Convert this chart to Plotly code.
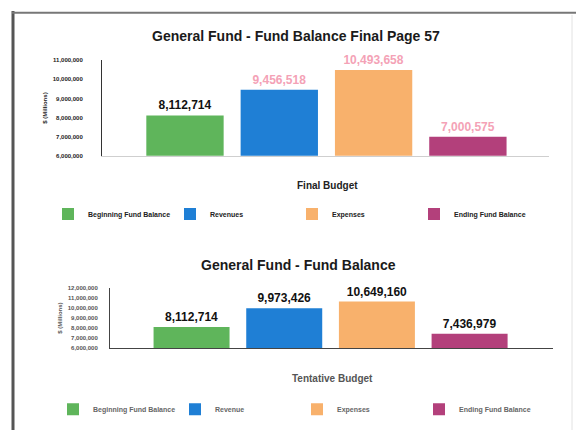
import plotly.graph_objects as go

# ---------------- data ----------------
series_final = ["Beginning Fund Balance", "Revenues", "Expenses", "Ending Fund Balance"]
series_tent = ["Beginning Fund Balance", "Revenue", "Expenses", "Ending Fund Balance"]
final_values = [8112714, 9456518, 10493658, 7000575]
tentative_values = [8112714, 9973426, 10649160, 7436979]
final_ticks = [6000000, 7000000, 8000000, 9000000, 10000000, 11000000]
tent_ticks = [6000000, 7000000, 8000000, 9000000, 10000000, 11000000, 12000000]
final_title = "General Fund - Fund Balance Final Page 57"
tent_title = "General Fund - Fund Balance"
final_xtitle = "Final Budget"
tent_xtitle = "Tentative Budget"
ytitle = "$ (Millions)"

# ---------------- styles ----------------
bar_colors = ["#5fb55b", "#1f7fd5", "#f8b16c", "#b3407b"]
final_label_colors = ["#111111", "#f4a2b6", "#f4a2b6", "#f4a2b6"]
tent_label_colors = ["#111111", "#111111", "#111111", "#111111"]
FONT = "Liberation Sans, Arial, sans-serif"
W, H = 576, 433

fig = go.Figure()

for i, name in enumerate(series_final):
    fig.add_trace(go.Bar(
        x=[i], y=[final_values[i]], name=name,
        marker=dict(color=bar_colors[i], line=dict(width=0)),
        width=0.82,
        text=[f"{final_values[i]:,}"], textposition="outside",
        textfont=dict(family=FONT, size=12, color=final_label_colors[i], weight="bold"),
        constraintext="none", cliponaxis=False,
        xaxis="x", yaxis="y", legend="legend", hoverinfo="skip",
    ))

for i, name in enumerate(series_tent):
    fig.add_trace(go.Bar(
        x=[i], y=[tentative_values[i]], name=name,
        marker=dict(color=bar_colors[i], line=dict(width=0)),
        width=0.82,
        text=[f"{tentative_values[i]:,}"], textposition="outside",
        textfont=dict(family=FONT, size=12, color=tent_label_colors[i], weight="bold"),
        constraintext="none", cliponaxis=False,
        xaxis="x2", yaxis="y2", legend="legend2", hoverinfo="skip",
    ))

def px_x(p):
    return p / W

def px_y(p):
    return 1 - p / H

fig.update_layout(
    width=W, height=H,
    margin=dict(l=0, r=0, t=0, b=0),
    paper_bgcolor="white", plot_bgcolor="white",
    barmode="overlay",
    font=dict(family=FONT, color="#222222"),
    showlegend=True,
    xaxis=dict(
        domain=[px_x(102), px_x(549)], range=[-0.88, 3.86],
        showticklabels=False, ticks="", showgrid=False, zeroline=False,
        showline=True, linecolor="#cfcfcf", linewidth=1,
        anchor="y",
    ),
    yaxis=dict(
        domain=[px_y(155), px_y(58)], range=[6000000, 11000000],
        tickvals=final_ticks, tickformat=",d",
        tickfont=dict(family=FONT, size=6, color="#222222", weight="bold"),
        ticks="", ticklabelstandoff=17,
        showgrid=False, zeroline=False,
        showline=True, linecolor="#333333", linewidth=1,
        anchor="x",
        title=dict(text=ytitle, standoff=4,
                   font=dict(family=FONT, size=6, color="#222222", weight="bold")),
    ),
    xaxis2=dict(
        domain=[px_x(110), px_x(553)], range=[-0.88, 3.9],
        showticklabels=False, ticks="", showgrid=False, zeroline=False,
        showline=True, linecolor="#444444", linewidth=1,
        anchor="y2",
    ),
    yaxis2=dict(
        domain=[px_y(350), px_y(289)], range=[6000000, 12000000],
        tickvals=tent_ticks, tickformat=",d",
        tickfont=dict(family=FONT, size=6, color="#555555", weight="bold"),
        ticks="", ticklabelstandoff=10,
        showgrid=False, zeroline=False,
        showline=True, linecolor="#444444", linewidth=1,
        anchor="x2",
        title=dict(text=ytitle, standoff=4,
                   font=dict(family=FONT, size=6, color="#555555", weight="bold")),
    ),
    legend=dict(
        orientation="h", x=px_x(48), y=px_y(214), xanchor="left", yanchor="middle",
        entrywidth=77, entrywidthmode="pixels",
        font=dict(family=FONT, size=7, color="#222222", weight="bold"),
        bgcolor="rgba(0,0,0,0)", traceorder="normal",
    ),
    legend2=dict(
        orientation="h", x=px_x(53), y=px_y(412), xanchor="left", yanchor="middle",
        entrywidth=77, entrywidthmode="pixels",
        font=dict(family=FONT, size=7, color="#666666", weight="bold"),
        bgcolor="rgba(0,0,0,0)", traceorder="normal",
    ),
    annotations=[
        dict(text=final_title, x=px_x(296), y=px_y(33), xref="paper", yref="paper",
             showarrow=False, xanchor="center", yanchor="middle",
             font=dict(family=FONT, size=14, color="#1a1a1a", weight="bold")),
        dict(text=tent_title, x=px_x(298), y=px_y(266), xref="paper", yref="paper",
             showarrow=False, xanchor="center", yanchor="middle",
             font=dict(family=FONT, size=14, color="#1a1a1a", weight="bold")),
        dict(text=final_xtitle, x=px_x(327), y=px_y(185), xref="paper", yref="paper",
             showarrow=False, xanchor="center", yanchor="middle",
             font=dict(family=FONT, size=10, color="#222222", weight="bold")),
        dict(text=tent_xtitle, x=px_x(332), y=px_y(381), xref="paper", yref="paper",
             showarrow=False, xanchor="center", yanchor="middle",
             font=dict(family=FONT, size=10, color="#555555", weight="bold")),
    ],
    shapes=[
        dict(type="line", xref="paper", yref="paper", x0=px_x(13), x1=px_x(13),
             y0=px_y(8), y1=0, line=dict(color="#555555", width=3)),
        dict(type="line", xref="paper", yref="paper", x0=px_x(12), x1=1,
             y0=px_y(10), y1=px_y(10), line=dict(color="#777777", width=2)),
        dict(type="line", xref="paper", yref="paper", x0=px_x(572), x1=px_x(572),
             y0=px_y(12), y1=0, line=dict(color="#e2e2e2", width=1)),
    ],
)

fig.write_html("out.html")
